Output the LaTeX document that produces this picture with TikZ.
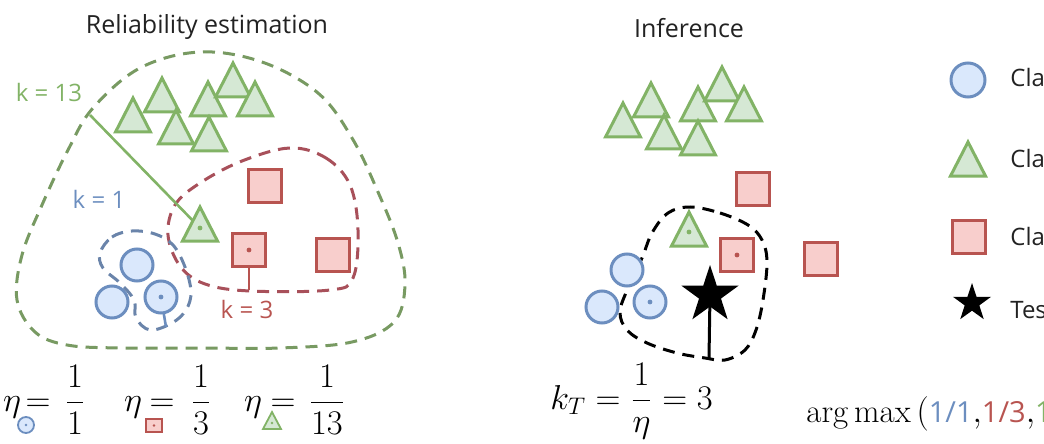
\documentclass[tikz,border=0pt]{standalone}
\usepackage{fontspec}
\usepackage{amsmath}
\newfontfamily\osans{Open Sans}
\usetikzlibrary{shapes.geometric}
\definecolor{gfill}{HTML}{D5E8D4}
\definecolor{gdraw}{HTML}{82B366}
\definecolor{rfill}{HTML}{F8CECC}
\definecolor{rdraw}{HTML}{B85450}
\definecolor{bfill}{HTML}{DAE8FC}
\definecolor{bdraw}{HTML}{6C8EBF}
\definecolor{gdash}{HTML}{789A62}
\definecolor{rdash}{HTML}{A8505A}
\definecolor{bdash}{HTML}{6A84AA}
\definecolor{txt}{HTML}{222222}
\newcommand\gtri[2]{\draw[tri] (#1,#2) -- ++(-17.5,34) -- ++(35,0) -- cycle;}
\begin{document}
\begin{tikzpicture}[x=0.5pt,y=-0.5pt,
  tri/.style={draw=gdraw,fill=gfill,line width=1.5pt,line join=miter},
  sq/.style={shape=rectangle,draw=rdraw,fill=rfill,line width=1.5pt,minimum size=16.5pt,inner sep=0pt},
  circ/.style={shape=circle,draw=bdraw,fill=bfill,line width=1.5pt,minimum size=16pt,inner sep=0pt},
  blob/.style={line width=1.5pt,dash pattern=on 6pt off 4pt},
  title/.style={font=\osans\fontsize{12.5}{15}\selectfont,text=txt,anchor=base,inner sep=0pt},
  klbl/.style={font=\osans\fontsize{12}{14}\selectfont,anchor=base,inner sep=0pt},
  leg/.style={font=\osans\fontsize{12}{14}\selectfont,text=txt,anchor=base west,inner sep=0pt},
  mth/.style={font=\fontsize{16}{19}\selectfont,anchor=base,inner sep=0pt},
  rad/.style={line width=1.3pt}
]
\useasboundingbox (0,0) rectangle (1044,444);

% titles
\node[title] (t1) at (207,34) {Reliability estimation};
\node[title] (t2) at (689,38) {Inference};

% ---------- left panel ----------
\draw[blob,draw=gdash] plot[smooth cycle,tension=0.6] coordinates {
 (200,52) (262,62) (318,93) (352,138) (378,192) (398,243) (405,285) (394,322)
 (352,342) (280,348) (200,348) (120,348) (67,345) (35,332) (17,300) (22,255)
 (42,205) (68,150) (93,108) (140,68)};
\draw[blob,draw=rdash] plot[smooth cycle,tension=0.6] coordinates {
 (290,148) (326,158) (350,185) (358,230) (353,278) (330,290) (250,291)
 (205,284) (180,266) (168,235) (175,205) (200,183) (242,161)};
\draw[blob,draw=bdash] plot[smooth cycle,tension=0.6] coordinates {
 (100,253) (112,237) (132,231) (155,234) (173,245) (185,267) (191,292)
 (186,310) (172,323) (150,330) (136,318) (134,300) (120,283) (103,268)};

\coordinate (k13end) at (90,115);
\coordinate (tdot) at (200,228);
\draw[rad,draw=gdraw] (k13end) -- (tdot);

\gtri{133}{98}
\gtri{162}{78}
\gtri{176}{110}
\gtri{208}{82}
\gtri{233}{63}
\gtri{255}{82}
\gtri{209}{117}
\gtri{200}{207}
\fill[gdraw] (tdot) circle (1.2pt);

\coordinate (rend) at (249,290);
\draw[rad,draw=rdraw] (249,250) -- (rend);
\node[sq] (ls1) at (264.5,185.5) {};
\node[sq] (ls2) at (249,250) {};
\node[sq] (ls3) at (333,255) {};
\fill[rdraw] (ls2.center) circle (1.2pt);

\coordinate (bend) at (166,327);
\draw[rad,draw=bdraw] (161,297) -- (bend);
\node[circ] (lc1) at (137,265) {};
\node[circ] (lc2) at (112,302) {};
\node[circ] (lc3) at (161,297) {};
\fill[bdraw] (lc3.center) circle (1.2pt);

\node[klbl,text=gdraw] (k13) at (49,102) {k = 13};
\node[klbl,text=bdraw] (k1) at (99,208) {k = 1};
\node[klbl,text=rdraw] (k3) at (247,318) {k = 3};

% formulas left
\node[mth] (eta1) at (12,411) {$\eta$};
\draw[draw=bdraw,fill=bfill,line width=0.9pt] (26,425) circle (4pt);
\fill[bdraw] (26,425) circle (0.7pt);
\node[mth] (eq1) at (38,411) {$=$};
\node[mth] (f1) at (75,411) {$\dfrac{1}{1}$};

\node[mth] (eta2) at (133,411) {$\eta$};
\draw[draw=rdraw,fill=rfill,line width=0.9pt] (146,419) rectangle (162,432);
\fill[rdraw] (154,425.5) circle (0.7pt);
\node[mth] (eq2) at (162,411) {$=$};
\node[mth] (f2) at (201,411) {$\dfrac{1}{3}$};

\node[mth] (eta3) at (253,411) {$\eta$};
\draw[draw=gdraw,fill=gfill,line width=0.9pt] (272,412) -- (263,429) -- (281,429) -- cycle;
\fill[gdraw] (272,423) circle (0.7pt);
\node[mth] (eq3) at (283,411) {$=$};
\node[mth] (f3) at (327,411) {$\dfrac{1}{13}$};

% ---------- right panel ----------
\draw[blob,draw=black] plot[smooth cycle,tension=0.6] coordinates {
 (690,207) (720,213) (748,225) (762,240) (767,262) (763,300) (756,330)
 (745,350) (725,360) (705,358) (677,353) (647,343) (627,330) (620,312)
 (628,288) (642,258) (652,233) (668,213)};

\gtri{623}{103}
\gtri{651}{83}
\gtri{664}{115}
\gtri{698}{87}
\gtri{722}{67}
\gtri{744}{87}
\gtri{698}{121}
\gtri{689}{212}
\fill[gdraw] (689,232) circle (1.2pt);

\node[sq] (rs1) at (752.5,189) {};
\node[sq] (rs2) at (737,255) {};
\node[sq] (rs3) at (821,259) {};
\fill[rdraw] (rs2.center) circle (1.2pt);

\node[circ] (rc1) at (627,270) {};
\node[circ] (rc2) at (602,307) {};
\node[circ] (rc3) at (650,302) {};
\fill[bdraw] (rc3.center) circle (1.2pt);

\node[star,star points=5,star point ratio=2.6,fill=black,inner sep=0pt,minimum size=30pt] (tst) at (710,295) {};
\coordinate (tend) at (709,358);
\draw[line width=1.5pt] (tst.center) -- (tend);

% formulas right
\node[mth,font=\fontsize{17}{20}\selectfont,anchor=base west] (kt) at (550,409) {$k_T = \dfrac{1}{\eta} = 3$};
\node[mth,font=\fontsize{16.5}{20}\selectfont,anchor=base west] (am) at (806,422) {$\arg\max\,($\textcolor{bdraw}{\osans\fontsize{14.5}{17}\selectfont 1/1}$,$\textcolor{rdraw}{\osans\fontsize{14.5}{17}\selectfont 1/3}$,$\textcolor{gdraw}{\osans\fontsize{14.5}{17}\selectfont 1}};

% legend
\node[circ,minimum size=17pt] (lgc) at (968,80) {};
\gtri{968}{142}
\node[sq] (lgs) at (969,237) {};
\node[star,star points=5,star point ratio=2.6,fill=black,inner sep=0pt,minimum size=20pt] (lgt) at (972,303) {};
\node[leg] (l1) at (1010,87) {Cla};
\node[leg] (l2) at (1010,168) {Cla};
\node[leg] (l3) at (1010,245) {Cla};
\node[leg] (l4) at (1010,318) {Tes};
\end{tikzpicture}
\end{document}
